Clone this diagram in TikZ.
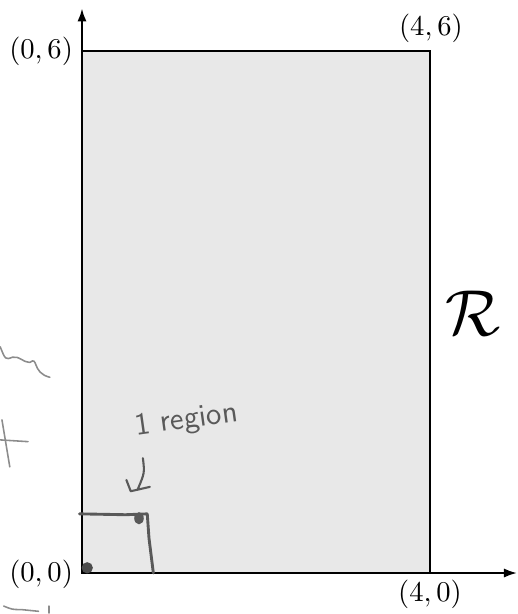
\documentclass[tikz,border=0pt]{standalone}
\usetikzlibrary{arrows.meta}
\begin{document}
\begin{tikzpicture}[x=1.17cm,y=1.17cm,
  axis/.style={line width=0.8pt,-{Latex[length=5pt,width=3.5pt]}},
  region/.style={fill=black!9,draw=black,line width=0.5pt},
  pen/.style={draw=black!65,line width=1.1pt,line cap=round,line join=round},
  faint/.style={draw=black!45,line width=0.6pt,line cap=round,line join=round},
  coordlabel/.style={inner sep=1pt,font=\fontsize{11}{13}\selectfont}]
\useasboundingbox (-0.9425,-0.471) rectangle (5.011,6.586);
% region
\path[region] (0,0) rectangle (4,6);
% axes
\coordinate (O) at (0,0);
\coordinate (xend) at (5.0,0);
\coordinate (yend) at (0,6.49);
\draw[axis] (O) -- (xend);
\draw[axis] (O) -- (yend);
% labels
\node[coordlabel] (l06) at (-0.47,6.0) {$(0,6)$};
\node[coordlabel] (l46) at (4.01,6.26) {$(4,6)$};
\node[coordlabel] (l40) at (4.0,-0.25) {$(4,0)$};
\node[coordlabel] (l00) at (-0.47,-0.02) {$(0,0)$};
\node[inner sep=1pt] (lR) at (4.49,2.99) {\Huge$\mathcal{R}$};
% hand-drawn small square
\coordinate (s1) at (-0.03,0.68);
\coordinate (s2) at (0.75,0.68);
\coordinate (s3) at (0.82,0);
\draw[pen] (s1) -- (0.5,0.67) -- (s2) -- (0.77,0.4) -- (s3);
\fill[black!70] (0.06,0.06) circle (0.065);
\fill[black!65] (0.655,0.63) ellipse (0.055 and 0.07);
% hand-drawn arrow
\draw[pen,line width=0.8pt] (0.70,1.32) .. controls (0.72,1.15) .. (0.64,0.96);
\draw[pen,line width=0.8pt] (0.51,1.07) -- (0.56,0.94) -- (0.78,0.99);
% handwritten note
\node[text=black!65,rotate=8,font=\sffamily\large] (note) at (1.2,1.75) {1 region};
% faint scribbles at the left edge
\draw[faint] (-0.94,2.6) .. controls (-0.88,2.45) .. (-0.8,2.48)
  .. controls (-0.72,2.5) and (-0.68,2.42) .. (-0.6,2.42)
  .. controls (-0.5,2.5) and (-0.58,2.3) .. (-0.37,2.25);
\draw[faint] (-0.92,1.76) -- (-0.83,1.22);
\draw[faint] (-0.94,1.53) -- (-0.62,1.51);
\draw[faint] (-0.9,-0.38) .. controls (-0.8,-0.42) .. (-0.7,-0.42) -- (-0.5,-0.44);
\draw[faint] (-0.38,-0.38) -- (-0.38,-0.46);
\end{tikzpicture}
\end{document}
